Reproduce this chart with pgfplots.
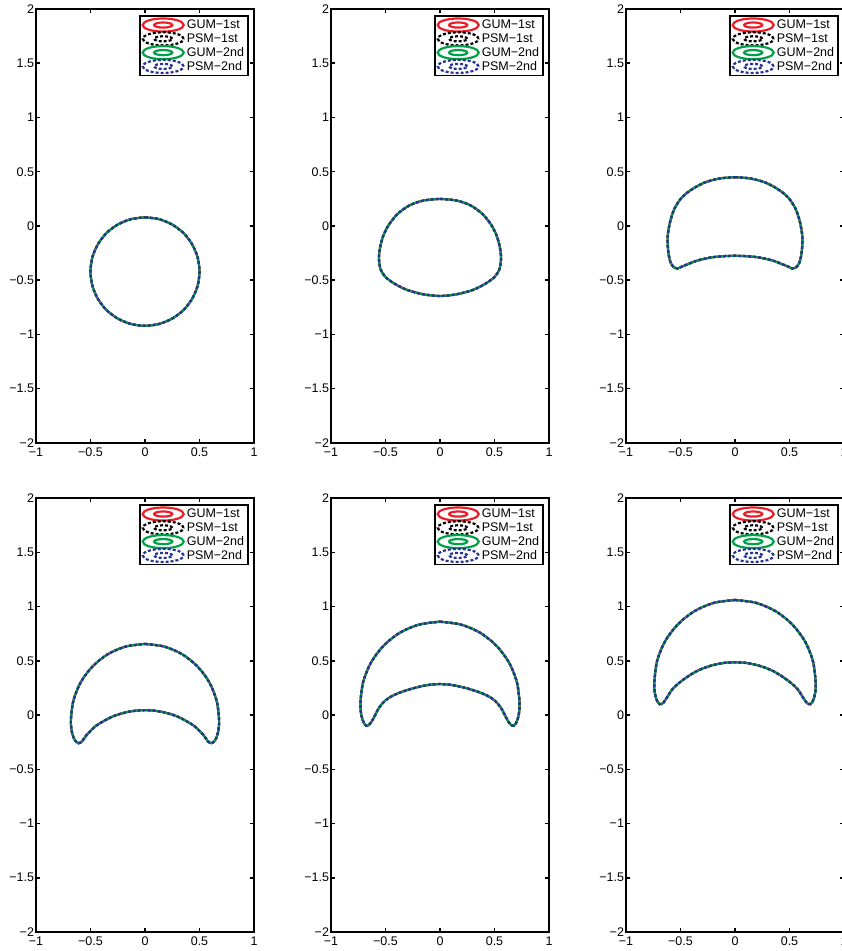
\documentclass[border=0pt]{standalone}
\usepackage{fontspec}
\setmainfont{Liberation Sans}
\usepackage{pgfplots}
\usepackage{pgfplotstable}
\pgfplotsset{compat=1.18}
\definecolor{mred}{RGB}{235,30,40}
\definecolor{mgreen}{RGB}{0,160,70}
\definecolor{mblue}{RGB}{40,50,150}

\pgfplotstableread{
x y
0 0.08
0.129 0.063
0.25 0.013
0.354 -0.066
0.433 -0.17
0.483 -0.29
0.5 -0.42
0.483 -0.55
0.433 -0.67
0.354 -0.774
0.25 -0.853
0.129 -0.903
0 -0.92
-0.129 -0.903
-0.25 -0.853
-0.354 -0.774
-0.433 -0.67
-0.483 -0.55
-0.5 -0.42
-0.483 -0.29
-0.433 -0.17
-0.354 -0.066
-0.25 0.013
-0.129 0.063
0 0.08
}\shapeA

\pgfplotstableread{
x y
0 0.25
0.15 0.235
0.28 0.19
0.39 0.11
0.47 0.01
0.52 -0.09
0.55 -0.2
0.56 -0.3
0.545 -0.4
0.50 -0.47
0.42 -0.53
0.3 -0.59
0.15 -0.63
0 -0.645
-0.15 -0.63
-0.3 -0.59
-0.42 -0.53
-0.50 -0.47
-0.545 -0.4
-0.56 -0.3
-0.55 -0.2
-0.52 -0.09
-0.47 0.01
-0.39 0.11
-0.28 0.19
-0.15 0.235
0 0.25
}\shapeB

\pgfplotstableread{
x y
0 0.45
0.14 0.438
0.28 0.4
0.40 0.335
0.49 0.26
0.555 0.16
0.595 0.04
0.618 -0.1
0.612 -0.24
0.59 -0.34
0.555 -0.385
0.525 -0.392
0.49 -0.375
0.44 -0.355
0.35 -0.32
0.22 -0.29
0.1 -0.278
0 -0.275
-0.1 -0.278
-0.22 -0.29
-0.35 -0.32
-0.44 -0.355
-0.49 -0.375
-0.525 -0.392
-0.555 -0.385
-0.59 -0.34
-0.612 -0.24
-0.618 -0.1
-0.595 0.04
-0.555 0.16
-0.49 0.26
-0.40 0.335
-0.28 0.4
-0.14 0.438
0 0.45
}\shapeC

\pgfplotstableread{
x y
0 0.655
0.176 0.631
0.34 0.561
0.481 0.448
0.589 0.303
0.657 0.132
0.68 -0.05
0.67 -0.16
0.645 -0.23
0.61 -0.26
0.575 -0.24
0.54 -0.19
0.45 -0.1
0.3 -0.015
0.15 0.03
0 0.045
-0.15 0.03
-0.3 -0.015
-0.45 -0.1
-0.54 -0.19
-0.575 -0.24
-0.61 -0.26
-0.645 -0.23
-0.67 -0.16
-0.68 -0.05
-0.657 0.132
-0.589 0.303
-0.481 0.448
-0.34 0.561
-0.176 0.631
0 0.655
}\shapeD

\pgfplotstableread{
x y
0 0.86
0.189 0.834
0.365 0.76
0.516 0.64
0.632 0.485
0.705 0.304
0.73 0.11
0.722 0.0
0.7 -0.07
0.675 -0.1
0.645 -0.085
0.615 -0.04
0.585 0.02
0.55 0.08
0.5 0.135
0.44 0.175
0.36 0.21
0.25 0.245
0.12 0.275
0 0.285
-0.12 0.275
-0.25 0.245
-0.36 0.21
-0.44 0.175
-0.5 0.135
-0.55 0.08
-0.585 0.02
-0.615 -0.04
-0.645 -0.085
-0.675 -0.1
-0.7 -0.07
-0.722 0.0
-0.73 0.11
-0.705 0.304
-0.632 0.485
-0.516 0.64
-0.365 0.76
-0.189 0.834
0 0.86
}\shapeE

\pgfplotstableread{
x y
0 1.06
0.192 1.034
0.37 0.958
0.523 0.837
0.641 0.68
0.715 0.497
0.74 0.3
0.735 0.2
0.715 0.13
0.69 0.1
0.66 0.11
0.625 0.16
0.58 0.23
0.52 0.29
0.44 0.35
0.34 0.41
0.22 0.455
0.1 0.48
0 0.485
-0.1 0.48
-0.22 0.455
-0.34 0.41
-0.44 0.35
-0.52 0.29
-0.58 0.23
-0.625 0.16
-0.66 0.11
-0.69 0.1
-0.715 0.13
-0.735 0.2
-0.74 0.3
-0.715 0.497
-0.641 0.68
-0.523 0.837
-0.37 0.958
-0.192 1.034
0 1.06
}\shapeF

\pgfplotsset{
  legend image code/.code={%
    \draw[#1] (0.74cm,0cm) ellipse (0.72cm and 0.23cm);
    \draw[#1] (0.74cm,0cm) ellipse (0.32cm and 0.09cm);},
  panel/.style={
    width=218pt, height=434pt, scale only axis, anchor=south west,
    xmin=-1, xmax=1, ymin=-2, ymax=2,
    xtick={-1,-0.5,0,0.5,1},
    xticklabels={−1,−0.5,0,0.5,1},
    ytick={-2,-1.5,-1,-0.5,0,0.5,1,1.5,2},
    yticklabels={−2,−1.5,−1,−0.5,0,0.5,1,1.5,2},
    tick align=inside, major tick length=4pt,
    axis line style={line width=2.2pt, line cap=rect},
    every tick/.style={black, line width=1.5pt},
    ticklabel style={font=\fontsize{12.5}{14}\selectfont},
    yticklabel style={xshift=1.5pt},
    xticklabel style={yshift=-1pt},
    legend cell align=left,
    legend style={at={(1,1)}, anchor=north east, xshift=-5pt, yshift=-6pt,
      draw=black, line width=1.8pt, font=\fontsize{12.5}{14}\selectfont,
      inner xsep=2pt, inner ysep=1.5pt, row sep=-1.5pt},
  },
  gum1/.style={mred, line width=2.2pt, smooth},
  psm1/.style={black, line width=2.2pt, smooth, dash pattern=on 3pt off 2pt},
  gum2/.style={mgreen, line width=2.2pt, smooth},
  psm2/.style={mblue, line width=2.2pt, smooth, dash pattern=on 3pt off 2pt},
}

\newcommand{\panel}[3]{%
  \begin{axis}[panel, at={(#1,#2)}]
    \addplot[gum1] table {#3}; \addlegendentry{GUM−1st}
    \addplot[psm1] table {#3}; \addlegendentry{PSM−1st}
    \addplot[gum2] table {#3}; \addlegendentry{GUM−2nd}
    \addplot[psm2] table {#3}; \addlegendentry{PSM−2nd}
  \end{axis}}

\begin{document}
\begin{tikzpicture}
  \panel{36pt}{508pt}{\shapeA}
  \panel{331pt}{508pt}{\shapeB}
  \panel{626pt}{508pt}{\shapeC}
  \panel{36pt}{19pt}{\shapeD}
  \panel{331pt}{19pt}{\shapeE}
  \panel{626pt}{19pt}{\shapeF}
  \pgfresetboundingbox
  \path[use as bounding box] (0,0) rectangle (842pt,951pt);
\end{tikzpicture}
\end{document}
